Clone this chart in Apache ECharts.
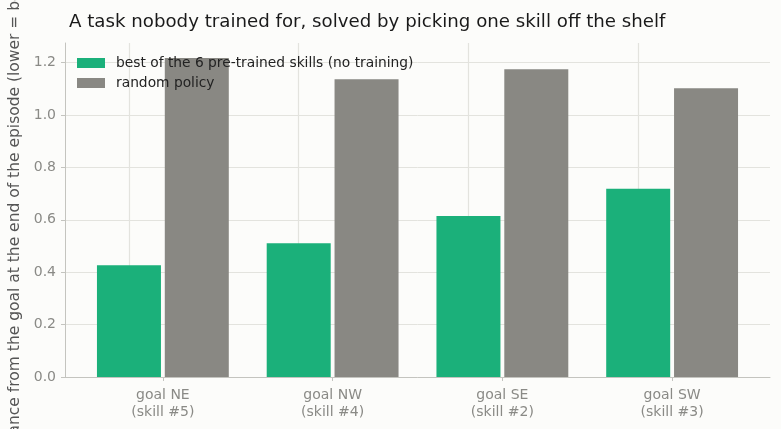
<!DOCTYPE html>
<html>
<head>
<meta charset="utf-8">
<script src="https://cdn.jsdelivr.net/npm/echarts@6/dist/echarts.min.js"></script>
<style>
  html, body { margin: 0; padding: 0; background: #fcfcfa; }
  #chart { width: 781px; height: 429px; }
</style>
</head>
<body>
<div id="chart"></div>
<script>
const categories = ['goal NE\n(skill #5)', 'goal NW\n(skill #4)', 'goal SE\n(skill #2)', 'goal SW\n(skill #3)'];
const bestSkill = [0.427, 0.511, 0.615, 0.719];
const randomPolicy = [1.218, 1.137, 1.175, 1.102];
const seriesNames = ['best of the 6 pre-trained skills (no training)', 'random policy'];
const yTicks = { min: 0, max: 1.275, interval: 0.2 };

const font = 'DejaVu Sans';
const gridColor = '#e3e3de';
const axisColor = '#c4c4bf';
const labelColor = '#8a8a86';

const chart = echarts.init(document.getElementById('chart'));
chart.setOption({
  backgroundColor: '#fcfcfa',
  animation: false,
  textStyle: { fontFamily: font },
  title: {
    text: 'A task nobody trained for, solved by picking one skill off the shelf',
    left: 64, top: 8,
    textStyle: { fontFamily: font, fontSize: 18.2, fontWeight: 'normal', color: '#1a1a1a' }
  },
  legend: {
    orient: 'vertical',
    left: 72, top: 51,
    itemWidth: 28, itemHeight: 10, itemGap: 6,
    icon: 'rect',
    textStyle: { fontFamily: font, fontSize: 13.8, color: '#222', padding: [0, 0, 0, 6] },
    data: seriesNames
  },
  grid: [
    { left: 65, right: 11, top: 43, bottom: 52, outerBoundsMode: 'none', containLabel: false },
    { left: 78, right: 24, top: 43, bottom: 52, outerBoundsMode: 'none', containLabel: false }
  ],
  xAxis: [
    {
      gridIndex: 0, type: 'value', min: 0, max: 1,
      axisLine: { show: true, onZero: false, lineStyle: { color: axisColor } },
      axisTick: { show: false }, axisLabel: { show: false }, splitLine: { show: false }
    },
    {
      gridIndex: 1, type: 'category', data: categories,
      axisLine: { show: false, onZero: false },
      axisTick: { show: true, alignWithLabel: true, length: 4, lineStyle: { color: axisColor } },
      axisLabel: { fontFamily: font, fontSize: 14, color: labelColor, margin: 10, lineHeight: 17 },
      splitLine: { show: false }
    }
  ],
  yAxis: [
    {
      gridIndex: 0, type: 'value', min: yTicks.min, max: yTicks.max, interval: yTicks.interval,
      name: 'distance from the goal at the end of the episode (lower = better)',
      nameLocation: 'middle', nameGap: 40,
      nameTextStyle: { fontFamily: font, fontSize: 15.5, color: '#555' },
      axisLine: { show: true, onZero: false, lineStyle: { color: axisColor } },
      axisTick: { show: true, length: 4, lineStyle: { color: axisColor } },
      axisLabel: { fontFamily: font, fontSize: 14, color: labelColor, margin: 9, showMaxLabel: false, formatter: v => v.toFixed(1) },
      splitLine: { show: true, showMaxLine: false, lineStyle: { color: gridColor, width: 1 } }
    },
    {
      gridIndex: 1, type: 'value', min: yTicks.min, max: yTicks.max, interval: yTicks.interval,
      axisLine: { show: false }, axisTick: { show: false }, axisLabel: { show: false }, splitLine: { show: false }
    }
  ],
  series: [
    {
      name: seriesNames[0], type: 'bar', xAxisIndex: 1, yAxisIndex: 1,
      data: bestSkill, barWidth: 64, barGap: '6%',
      itemStyle: { color: '#1bb07a' },
      markLine: {
        silent: true, symbol: 'none', label: { show: false },
        lineStyle: { color: gridColor, type: 'solid', width: 1.2 },
        z: 0,
        data: categories.map(c => ({ xAxis: c }))
      }
    },
    {
      name: seriesNames[1], type: 'bar', xAxisIndex: 1, yAxisIndex: 1,
      data: randomPolicy, barWidth: 64, barGap: '6%',
      itemStyle: { color: '#898883' }
    }
  ]
});
</script>
</body>
</html>
